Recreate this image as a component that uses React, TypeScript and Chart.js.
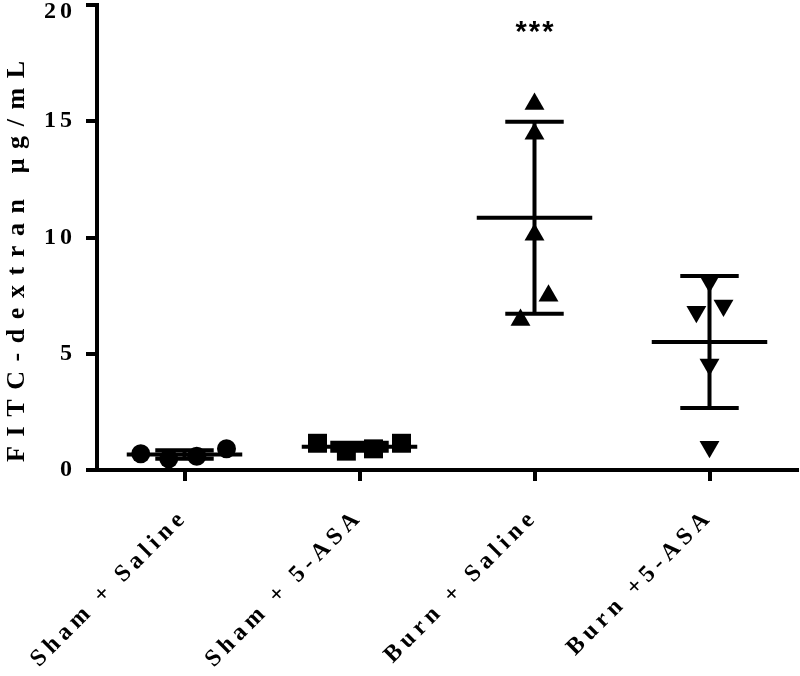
import React, { useEffect, useRef } from 'react';
import { Chart, registerables } from 'chart.js';

Chart.register(...registerables);

// ---- data ----
const categories = ['Sham + Saline', 'Sham + 5-ASA', 'Burn + Saline', 'Burn +5-ASA'];
const shamSaline = [0.7, 0.48, 0.59, 0.91];
const sham5ASA = [1.15, 0.81, 0.91, 1.15];
const burnSaline = [15.74, 14.46, 10.12, 7.49, 6.45];
const burn5ASA = [8.11, 6.81, 7.07, 4.54, 1.0];
// horizontal scatter of points inside each column (in category units)
const shamSalineJitter = [-0.25, -0.09, 0.07, 0.24];
const sham5ASAJitter = [-0.24, -0.075, 0.08, 0.24];
const burnSalineJitter = [0, 0, 0, 0.08, -0.08];
const burn5ASAJitter = [0, -0.075, 0.08, 0, 0];
const yTicks = [0, 5, 10, 15, 20];
const significance = ['', '', '***', ''];

const groups = [shamSaline, sham5ASA, burnSaline, burn5ASA];
const jitters = [shamSalineJitter, sham5ASAJitter, burnSalineJitter, burn5ASAJitter];
const pointStyles = ['circle', 'rect', 'triangle', 'triangle'];
const pointRotations = [0, 0, 0, 180];
const pointRadii = [9.5, 13.4, 11.5, 11.5];

const MEAN_HALF = 0.33;
const CAP_HALF = 0.167;
const SIG_Y = 19.0;

function mean(a: number[]) {
  return a.reduce((s, v) => s + v, 0) / a.length;
}
function sd(a: number[]) {
  const m = mean(a);
  return Math.sqrt(a.reduce((s, v) => s + (v - m) * (v - m), 0) / (a.length - 1));
}

const SERIF = '"Liberation Serif", "Times New Roman", serif';

function wrapSpacing(scale: any, name: string, spacing: string, dy = 0) {
  const key = '__wrapped_' + name;
  if (scale[key]) return;
  const orig = scale[name].bind(scale);
  scale[name] = (...args: any[]) => {
    const c = scale.ctx;
    c.save();
    c.letterSpacing = spacing;
    if (dy) c.translate(0, dy);
    orig(...args);
    c.restore();
  };
  scale[key] = true;
}

// keep the top y tick label inside the canvas (as in the reference)
function wrapTopLabel(scale: any) {
  if (scale.__wrappedItems) return;
  const orig = scale._computeLabelItems.bind(scale);
  scale._computeLabelItems = (...args: any[]) => {
    const items = orig(...args);
    items.forEach((it: any) => {
      const tr = it.options && it.options.translation;
      if (tr && tr[1] < 12) it.options.translation = [tr[0], 12];
    });
    return items;
  };
  scale._labelItems = null;
  scale.__wrappedItems = true;
}

const spacingPlugin = {
  id: 'spacingPlugin',
  beforeLayout(chart: any) {
    chart.ctx.letterSpacing = '4px';
  },
  beforeDraw(chart: any) {
    chart.ctx.letterSpacing = '4px';
    wrapTopLabel(chart.scales.y);
    wrapSpacing(chart.scales.y, 'drawTitle', '9.6px', -8);
    wrapSpacing(chart.scales.y, 'drawLabels', '4px');
    wrapSpacing(chart.scales.x, 'drawLabels', '5px');
  },
};

const sigPlugin = {
  id: 'sigPlugin',
  afterDatasetsDraw(chart: any) {
    const { ctx, scales } = chart;
    ctx.save();
    ctx.letterSpacing = '2px';
    ctx.font = 'bold 29px "Liberation Sans", Arial, sans-serif';
    ctx.fillStyle = '#000';
    ctx.textAlign = 'center';
    ctx.textBaseline = 'middle';
    significance.forEach((s, i) => {
      if (!s) return;
      ctx.fillText(s, scales.x.getPixelForValue(i) + 1, scales.y.getPixelForValue(SIG_Y) + 5);
    });
    ctx.restore();
  },
};

export default function App() {
  const ref = useRef<HTMLCanvasElement>(null);

  useEffect(() => {
    if (!ref.current) return;

    const pointSets = groups.map((g, i) => ({
      type: 'scatter' as const,
      data: g.map((v, k) => ({ x: i + jitters[i][k], y: v })),
      pointStyle: pointStyles[i],
      rotation: pointRotations[i],
      pointRadius: pointRadii[i],
      pointHoverRadius: pointRadii[i],
      backgroundColor: '#000',
      borderColor: '#000',
      borderWidth: 0,
      showLine: false,
    }));

    const errData: any[] = [];
    groups.forEach((g, i) => {
      const m = mean(g);
      const s = sd(g);
      errData.push({ x: i - MEAN_HALF, y: m }, { x: i + MEAN_HALF, y: m }, { x: i, y: null });
      errData.push({ x: i - CAP_HALF, y: m + s }, { x: i + CAP_HALF, y: m + s }, { x: i, y: null });
      errData.push({ x: i - CAP_HALF, y: m - s }, { x: i + CAP_HALF, y: m - s }, { x: i, y: null });
      errData.push({ x: i, y: m - s }, { x: i, y: m + s }, { x: i, y: null });
    });

    const chart = new Chart(ref.current, {
      type: 'scatter',
      data: {
        datasets: [
          {
            type: 'scatter',
            data: errData,
            showLine: true,
            spanGaps: false,
            borderColor: '#000',
            borderWidth: 4,
            pointRadius: 0,
            pointHoverRadius: 0,
            borderCapStyle: 'butt',
          } as any,
          ...pointSets,
        ],
      },
      options: {
        animation: false,
        responsive: false,
        layout: { autoPadding: false, padding: { top: 5, right: 3, left: 0, bottom: 0 } },
        plugins: { legend: { display: false }, tooltip: { enabled: false } },
        scales: {
          x: {
            type: 'linear',
            min: -0.5,
            max: 3.5,
            afterBuildTicks: (scale: any) => {
              scale.ticks = categories.map((_, i) => ({ value: i }));
            },
            afterFit: (scale: any) => {
              scale.height = 206;
              scale.paddingLeft = 0;
              scale.paddingRight = 0;
            },
            grid: {
              drawOnChartArea: false,
              drawTicks: true,
              tickLength: 11,
              tickWidth: 4,
              tickColor: '#000',
              lineWidth: 4,
              color: '#000',
            },
            border: { display: true, color: '#000', width: 4 },
            ticks: {
              autoSkip: false,
              minRotation: 45,
              maxRotation: 45,
              padding: 22,
              color: '#000',
              font: { family: SERIF, size: 24, weight: 'bold' },
              callback: (v: any) => categories[v as number] ?? '',
            },
          },
          y: {
            type: 'linear',
            min: 0,
            max: 20,
            afterBuildTicks: (scale: any) => {
              scale.ticks = yTicks.map((v) => ({ value: v }));
            },
            afterFit: (scale: any) => {
              scale.width = 97;
              scale.paddingTop = 0;
              scale.paddingBottom = 0;
            },
            grid: {
              drawOnChartArea: false,
              drawTicks: true,
              tickLength: 11,
              tickWidth: 4,
              tickColor: '#000',
              lineWidth: 4,
              color: '#000',
            },
            border: { display: true, color: '#000', width: 4 },
            ticks: {
              padding: 10,
              color: '#000',
              font: { family: SERIF, size: 24, weight: 'bold' },
              callback: (v: any) => String(v),
            },
            title: {
              display: true,
              text: 'FITC-dextran μg/mL',
              align: 'start',
              color: '#000',
              font: { family: SERIF, size: 26, weight: 'bold' },
              padding: { top: 2, bottom: 4 },
            },
          },
        },
      },
      plugins: [spacingPlugin, sigPlugin],
    } as any);

    return () => chart.destroy();
  }, []);

  return (
    <div style={{ position: 'absolute', left: 0, top: 0, width: 800, height: 676, background: '#fff' }}>
      <canvas ref={ref} width={800} height={676} style={{ display: 'block' }} />
    </div>
  );
}
